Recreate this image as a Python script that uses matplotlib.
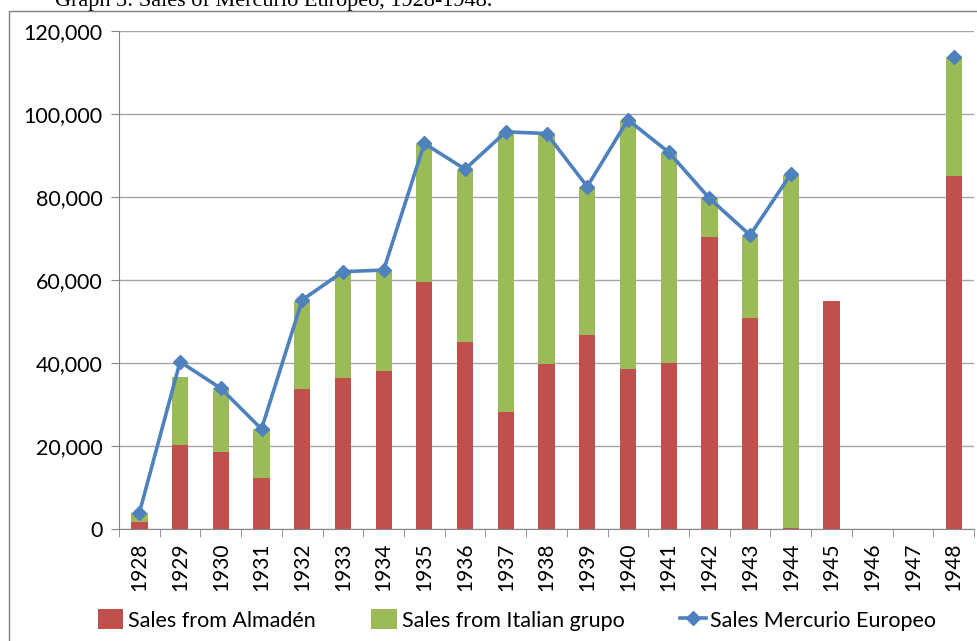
import numpy as np
import matplotlib
matplotlib.use("Agg")
import matplotlib.pyplot as plt
from matplotlib.patches import Rectangle
from matplotlib.ticker import FuncFormatter

years = ["1928", "1929", "1930", "1931", "1932", "1933", "1934", "1935", "1936", "1937", "1938",
         "1939", "1940", "1941", "1942", "1943", "1944", "1945", "1946", "1947", "1948"]
almaden = [1800, 20200, 18600, 12200, 33700, 36400, 38100, 59600, 45000, 28300, 39800,
           46700, 38600, 40000, 70400, 50800, 300, 54900, 0, 0, 85100]
italian = [2100, 16400, 15300, 11800, 21300, 25600, 24100, 33300, 41500, 67200, 55500,
           35600, 59800, 50600, 9300, 20000, 85100, 0, 0, 0, 28600]
mercurio = [3900, 40300, 33900, 24100, 55200, 62000, 62400, 92900, 86700, 95700, 95300,
            82500, 98600, 90800, 79700, 70800, 85500, np.nan, np.nan, np.nan, 113700]

RED, GREEN, BLUE = "#C0504D", "#9BBB59", "#4F81BD"
plt.rcParams["font.family"] = ["Lato", "DejaVu Sans"]

fig = plt.figure(figsize=(9.77, 6.41), dpi=100)
ax = fig.add_axes([119 / 977, 1 - 529 / 641, 855 / 977, 498 / 641])

x = np.arange(len(years))
b1 = ax.bar(x, almaden, width=0.4, color=RED, label="Sales from Almadén", zorder=2)
b2 = ax.bar(x, italian, width=0.4, bottom=almaden, color=GREEN, label="Sales from Italian grupo", zorder=2)
ln, = ax.plot(x, mercurio, color=BLUE, lw=2.6, marker="D", ms=7.5, label="Sales Mercurio Europeo", zorder=3)

ax.set_xlim(-0.5, len(years) - 0.5)
ax.set_ylim(0, 120000)
ax.set_yticks(np.arange(0, 120001, 20000))
ax.yaxis.set_major_formatter(FuncFormatter(lambda v, p: f"{int(v):,}"))
ax.grid(axis="y", color="#a6a6a6", lw=1, zorder=0)
ax.set_xticks(x)
ax.set_xticklabels(years, rotation=90, fontsize=15)
ax.set_xticks(np.arange(-0.5, len(years)), minor=True)
ax.tick_params(axis="x", which="major", length=0, pad=10)
ax.tick_params(axis="x", which="minor", length=6, color="#868686")
ax.tick_params(axis="y", length=6, color="#868686", labelsize=15.5, pad=6)
for s in ["top", "right"]:
    ax.spines[s].set_visible(False)
for s in ["left", "bottom"]:
    ax.spines[s].set_color("#868686")

fig.legend(handles=[b1, b2, ln], loc="center", bbox_to_anchor=(517 / 977, 1 - 620 / 641), ncol=3,
           frameon=False, fontsize=15.5, handlelength=1.2, handleheight=1.0, columnspacing=2.6,
           handletextpad=0.2)

# outer frame of the embedded chart (clipped at right and bottom)
fig.patches.append(Rectangle((9 / 977, -0.1), 1.2, 1 - 11 / 641 + 0.1, transform=fig.transFigure,
                             fill=False, edgecolor="#808080", lw=1))
fig.text(55 / 977, 1 - 6 / 641, "Graph 3: Sales of Mercurio Europeo, 1928-1948.",
         family="Liberation Serif", fontsize=16, va="baseline", ha="left")

fig.savefig("out.png", dpi=100)
